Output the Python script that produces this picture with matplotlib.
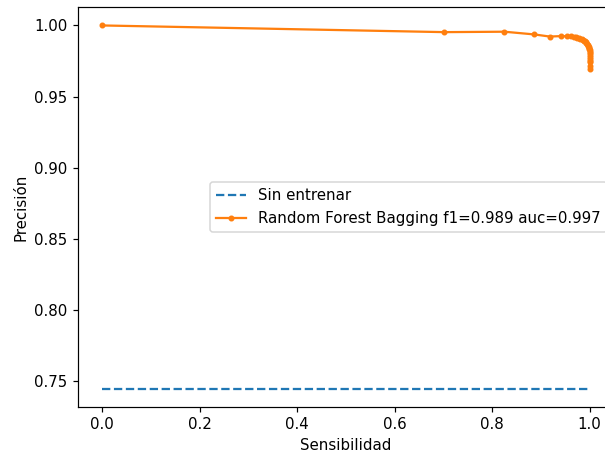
import matplotlib
matplotlib.use("Agg")
import matplotlib.pyplot as plt

# Data
no_skill = 0.7446
ns_recall = [0.0, 1.0]
ns_precision = [no_skill, no_skill]

recall = [0.0, 0.702, 0.825, 0.886, 0.918, 0.941, 0.954, 0.962, 0.968, 0.972,
          0.975, 0.978, 0.981, 0.984, 0.986, 0.988, 0.990, 0.992, 0.993, 0.994,
          0.996, 0.997, 0.998, 0.999, 0.999, 1.0, 1.0, 1.0, 1.0, 1.0, 1.0,
          1.0, 1.0, 1.0, 1.0]
precision = [1.0, 0.9953, 0.9956, 0.9937, 0.9922, 0.9925, 0.9924, 0.9923, 0.9922, 0.9919,
             0.9915, 0.9912, 0.9908, 0.9903, 0.9898, 0.9893, 0.9888, 0.9883, 0.9878, 0.9872,
             0.9865, 0.9858, 0.9850, 0.9843, 0.9835, 0.9825, 0.9815, 0.9803, 0.9790,
             0.9778, 0.9765, 0.9752, 0.9740, 0.9715, 0.9695]

label_ns = "Sin entrenar"
label_model = "Random Forest Bagging f1=0.989 auc=0.997"

dpi = 108
fig = plt.figure(figsize=(605 / dpi, 456 / dpi), dpi=dpi)
ax = fig.add_axes([78 / 605, (456 - 406.7) / 456, 536 / 605, 399.4 / 456])

ax.plot(ns_recall, ns_precision, linestyle="--", label=label_ns)
ax.plot(recall, precision, marker=".", label=label_model)

ax.set_xlabel("Sensibilidad")
ax.set_ylabel("Precisión")
ax.legend(loc="center right")

fig.savefig("out.png", dpi=dpi)
